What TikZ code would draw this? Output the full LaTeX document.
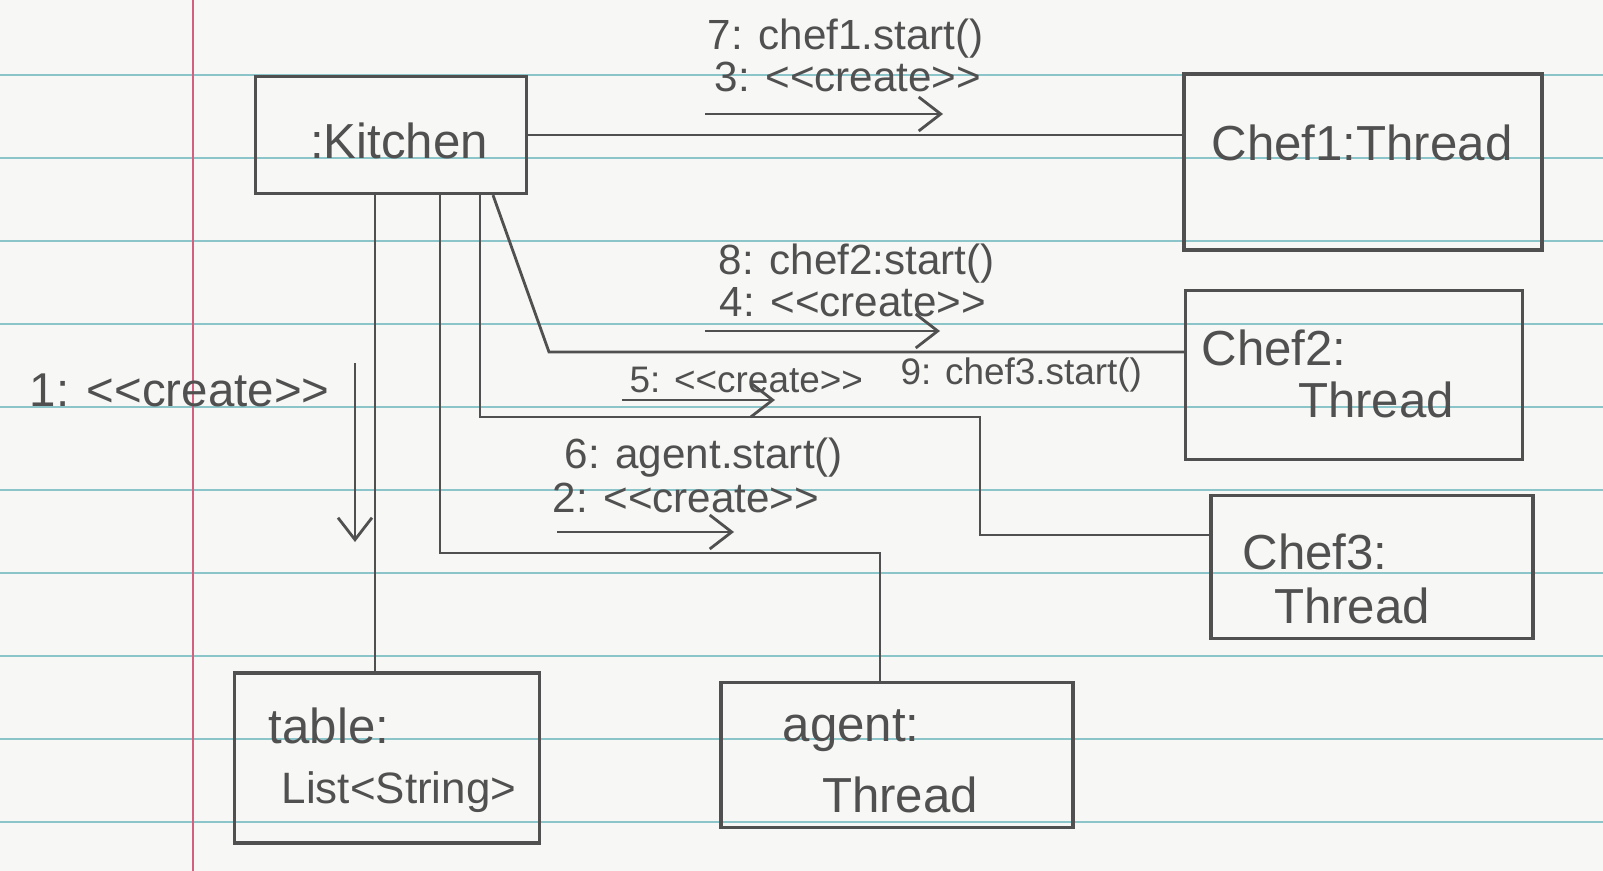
\documentclass[tikz,border=0pt]{standalone}
\usepackage{fontspec}
\setmainfont{Liberation Sans}
\usetikzlibrary{arrows.meta,calc}

\definecolor{pencil}{HTML}{505050}
\definecolor{paper}{HTML}{F7F7F5}
\definecolor{ruling}{HTML}{8BC4C9}
\definecolor{margin}{HTML}{D2607E}

\tikzset{
  objbox/.style={draw=pencil, line width=0.9pt, inner sep=0pt},
  objtext/.style={text=pencil, font=\fontsize{14}{16}\selectfont, inner sep=0pt},
  msgtext/.style={text=pencil, font=\fontsize{12}{14}\selectfont, inner sep=0pt, anchor=west},
  link/.style={draw=pencil, line width=0.8pt},
  msg/.style={draw=pencil, line width=0.8pt, -{Straight Barb[length=2.2mm,width=3.4mm]}},
}

\begin{document}
\begin{tikzpicture}[x=0.1mm, y=-0.1mm] % one unit = one pixel of the sketch

    % --- Paper ---
    \fill[paper] (0,0) rectangle (1603,871);
    \useasboundingbox (0,0) rectangle (1603,871);
    \foreach \y in {75,158,241,324,407,490,573,656,739,822}
        \draw[ruling, line width=0.6pt] (0,\y) -- (1603,\y);
    \draw[margin, line width=0.7pt] (193,0) -- (193,871);

    % --- Objects ---
    \node[objbox, minimum width=27.1mm, minimum height=11.7mm] (kitchen) at (391,135) {};
    \node[objbox, minimum width=35.8mm, minimum height=17.6mm] (chefone) at (1363,162) {};
    \node[objbox, minimum width=33.7mm, minimum height=16.9mm] (cheftwo) at (1354,375) {};
    \node[objbox, minimum width=32.2mm, minimum height=14.3mm] (chefthree) at (1372,567) {};
    \node[objbox, minimum width=30.5mm, minimum height=17.0mm] (table) at (387,758) {};
    \node[objbox, minimum width=35.2mm, minimum height=14.5mm] (agent) at (897,755) {};

    % object names
    \node[objtext] (kitchenname) at (399,141) {:Kitchen};
    \node[objtext] (chefonename) at (1362,143) {Chef1:Thread};
    \node[objtext, anchor=west] (cheftwoname) at (1201,348) {Chef2:};
    \node[objtext] (cheftwotype) at (1376,400) {Thread};
    \node[objtext, anchor=west] (chefthreename) at (1242,552) {Chef3:};
    \node[objtext] (chefthreetype) at (1352,606) {Thread};
    \node[objtext, anchor=west] (tablename) at (268,726) {table:};
    \node[objtext, anchor=west, font=\fontsize{12.5}{15}\selectfont] (tabletype) at (281,792) {List<String>};
    \node[objtext, anchor=west] (agentname) at (782,731) {agent:};
    \node[objtext] (agenttype) at (900,795) {Thread};

    % --- Links ---
    \coordinate (ktab) at ($(kitchen.south)+(-16,0)$);
    \coordinate (kagent) at ($(kitchen.south)+(49,0)$);
    \coordinate (kthree) at ($(kitchen.south)+(89,0)$);
    \coordinate (ktwo) at ($(kitchen.south)+(102,0)$);
    \coordinate (agentbend) at (880,553);
    \coordinate (threebend) at (980,417);
    \coordinate (twobend) at (549,352);

    \draw[link] (kitchen.east) -- (chefone.west |- kitchen.east);
    \draw[link] (ktwo) -- (twobend) -- (cheftwo.west |- twobend);
    \draw[link] (kthree) |- (threebend) |- ($(chefthree.west)+(0,-32)$);
    \draw[link] (kagent) |- (agentbend) -- (agentbend |- agent.north);
    \draw[link] (ktab) -- (ktab |- table.north);

    % --- Messages ---
    \node[msgtext] (msgseven) at (707,39) {7: chef1.start()};
    \node[msgtext] (msgthree) at (714,77) {3: <{}<create>{}>};
    \node[msgtext] (msgeight) at (718,264) {8: chef2:start()};
    \node[msgtext] (msgfour) at (719,302) {4: <{}<create>{}>};
    \node[msgtext, font=\fontsize{10.5}{12}\selectfont] (msgfive) at (629,380) {5: <{}<create>{}>};
    \node[msgtext, font=\fontsize{10.5}{12}\selectfont] (msgnine) at (900,375) {9: chef3.start()};
    \node[msgtext] (msgsix) at (564,458) {6: agent.start()};
    \node[msgtext] (msgtwo) at (552,498) {2: <{}<create>{}>};
    \node[msgtext, font=\fontsize{13.5}{15}\selectfont] (msgone) at (29,390) {1: <{}<create>{}>};

    % message arrows
    \draw[msg] (705,114) -- (943,114);
    \draw[msg] (705,331) -- (940,331);
    \draw[msg] (622,400) -- (775,400);
    \draw[msg] (557,532) -- (734,532);
    \draw[msg] (355,363) -- (355,542);

\end{tikzpicture}
\end{document}
